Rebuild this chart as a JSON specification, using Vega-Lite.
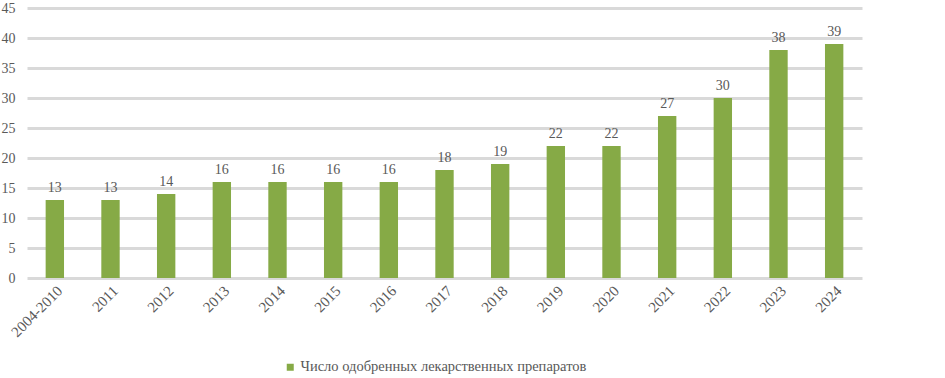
{
  "$schema": "https://vega.github.io/schema/vega-lite/v6.json",
  "width": 835,
  "height": 270,
  "autosize": {"type": "none"},
  "padding": {"left": 27, "top": 8, "right": 83, "bottom": 100},
  "background": "white",
  "config": {
    "view": {"stroke": null},
    "font": "'Liberation Serif', 'Times New Roman', serif",
    "axis": {"labelFont": "'Liberation Serif', 'Times New Roman', serif", "labelColor": "#595959", "labelFontSize": 14},
    "legend": {"labelFont": "'Liberation Serif', 'Times New Roman', serif", "labelColor": "#595959", "labelFontSize": 15}
  },
  "data": {
    "values": [
      {"year": "2004-2010", "value": 13, "series": "Число одобренных лекарственных препаратов"},
      {"year": "2011", "value": 13, "series": "Число одобренных лекарственных препаратов"},
      {"year": "2012", "value": 14, "series": "Число одобренных лекарственных препаратов"},
      {"year": "2013", "value": 16, "series": "Число одобренных лекарственных препаратов"},
      {"year": "2014", "value": 16, "series": "Число одобренных лекарственных препаратов"},
      {"year": "2015", "value": 16, "series": "Число одобренных лекарственных препаратов"},
      {"year": "2016", "value": 16, "series": "Число одобренных лекарственных препаратов"},
      {"year": "2017", "value": 18, "series": "Число одобренных лекарственных препаратов"},
      {"year": "2018", "value": 19, "series": "Число одобренных лекарственных препаратов"},
      {"year": "2019", "value": 22, "series": "Число одобренных лекарственных препаратов"},
      {"year": "2020", "value": 22, "series": "Число одобренных лекарственных препаратов"},
      {"year": "2021", "value": 27, "series": "Число одобренных лекарственных препаратов"},
      {"year": "2022", "value": 30, "series": "Число одобренных лекарственных препаратов"},
      {"year": "2023", "value": 38, "series": "Число одобренных лекарственных препаратов"},
      {"year": "2024", "value": 39, "series": "Число одобренных лекарственных препаратов"}
    ]
  },
  "encoding": {
    "x": {
      "field": "year", "type": "nominal", "sort": null,
      "scale": {"paddingInner": 0.67, "paddingOuter": 0.335},
      "axis": {"title": null, "labelAngle": -45, "domain": false, "ticks": false, "labelPadding": 5, "labelFontSize": 15, "labelOverlap": false}
    },
    "y": {
      "field": "value", "type": "quantitative",
      "scale": {"domain": [0, 45]},
      "axis": {"title": null, "values": [0,5,10,15,20,25,30,35,40,45], "labelOverlap": false, "domain": false, "ticks": false, "labelPadding": 12, "labelFontSize": 14, "gridColor": "#d9d9d9", "gridWidth": 3, "zindex": 0}
    }
  },
  "layer": [
    {
      "mark": {"type": "bar"},
      "encoding": {
        "color": {
          "field": "series", "type": "nominal",
          "scale": {"range": ["#86aa46"]},
          "legend": {"title": null, "orient": "none", "legendX": 256, "legendY": 352, "symbolType": "square", "symbolSize": 49, "labelOffset": 3, "labelFontSize": 14.5, "labelLimit": 0, "symbolStrokeWidth": 0}
        }
      }
    },
    {
      "mark": {"type": "text", "dy": -12, "fontSize": 14, "color": "#595959", "font": "'Liberation Serif', 'Times New Roman', serif"},
      "encoding": {"text": {"field": "value", "type": "quantitative"}}
    }
  ]
}
